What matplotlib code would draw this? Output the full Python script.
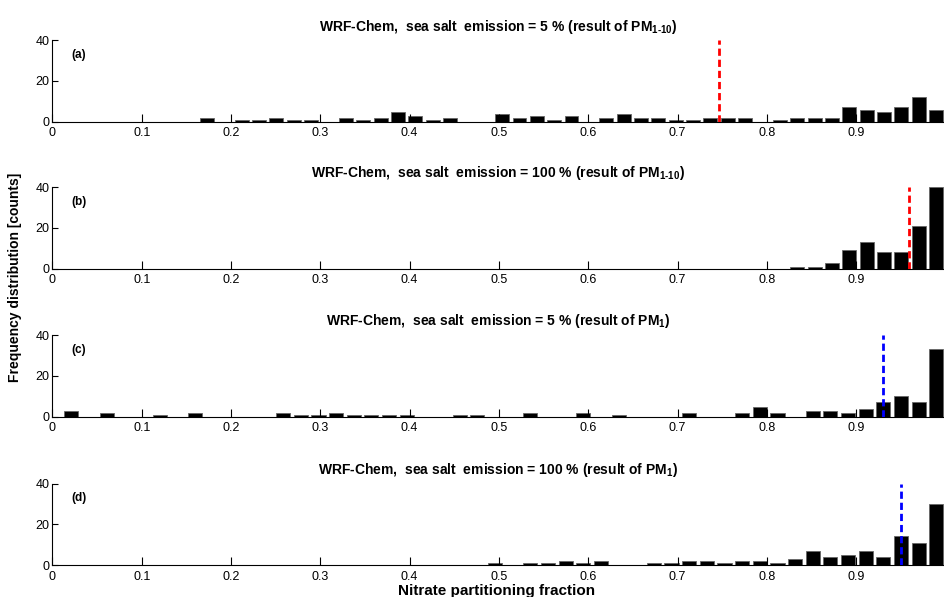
import numpy as np
import matplotlib
matplotlib.use("Agg")
import matplotlib.pyplot as plt

plt.rcParams['font.family'] = ['Liberation Sans', 'DejaVu Sans']
plt.rcParams['mathtext.fontset'] = 'custom'
plt.rcParams['mathtext.rm'] = 'Liberation Sans'
plt.rcParams['mathtext.bf'] = 'Liberation Sans:bold'

# histogram bin centres (first, last) for each panel, 50 bins
bins_pm110 = (0.037, 0.9896)
bins_pm1 = (0.0212, 0.9898)

counts_a = [0, 0, 0, 0, 0, 0, 0, 2, 0, 1,
            1, 2, 1, 1, 0, 2, 1, 2, 5, 3,
            1, 2, 0, 0, 4, 2, 3, 1, 3, 0,
            2, 4, 2, 2, 1, 1, 2, 2, 2, 0,
            1, 2, 2, 2, 7, 6, 5, 7, 12, 6]
counts_b = [0] * 40 + [0, 1, 1, 3, 9, 13, 8, 8, 21, 40]
counts_c = [3, 0, 2, 0, 0, 1, 0, 2, 0, 0,
            0, 0, 2, 1, 1, 2, 1, 1, 1, 1,
            0, 0, 1, 1, 0, 0, 2, 0, 0, 2,
            0, 1, 0, 0, 0, 2, 0, 0, 2, 5,
            2, 0, 3, 3, 2, 4, 7, 10, 7, 33]
counts_d = [0] * 20 + [0, 0, 0, 0, 1, 0, 1, 1, 2, 1,
                       2, 0, 0, 1, 1, 2, 2, 1, 2, 2,
                       1, 3, 7, 4, 5, 7, 4, 14, 11, 30]

means = [0.7465, 0.9592, 0.9305, 0.9502]
mean_colors = ['#ff0000', '#ff0000', '#0000ff', '#0000ff']
hy = '\u2010'
titles = ['WRF-Chem,  sea salt  emission = 5 % (result of PM$_{\\mathbf{1' + hy + '10}}$)',
          'WRF-Chem,  sea salt  emission = 100 % (result of PM$_{\\mathbf{1' + hy + '10}}$)',
          'WRF-Chem,  sea salt  emission = 5 % (result of PM$_{\\mathbf{1}}$)',
          'WRF-Chem,  sea salt  emission = 100 % (result of PM$_{\\mathbf{1}}$)']
panel_tags = ['(a)', '(b)', '(c)', '(d)']
xticks = [0, 0.1, 0.2, 0.3, 0.4, 0.5, 0.6, 0.7, 0.8, 0.9]

fig = plt.figure(figsize=(9.44, 5.97), dpi=100)

bottoms = [0.7961, 0.5499, 0.3020, 0.0536]
all_counts = [counts_a, counts_b, counts_c, counts_d]
all_bins = [bins_pm110, bins_pm110, bins_pm1, bins_pm1]

for i in range(4):
    ax = fig.add_axes([0.0555, bottoms[i], 0.9445, 0.1365])
    lo, hi = all_bins[i]
    centres = np.linspace(lo, hi, 50)
    step = centres[1] - centres[0]
    ax.bar(centres, all_counts[i], width=0.8 * step, color='black',
           edgecolor='#666666', linewidth=0.6)
    ax.vlines(means[i], 0, 40, colors=mean_colors[i], linewidth=2.0,
              linestyles=(0, (2.6, 1.4)), zorder=3)
    ax.set_xlim(0, 0.9984)
    ax.set_ylim(0, 40)
    ax.set_yticks([0, 20, 40])
    ax.set_xticks(xticks)
    ax.set_xticklabels([('%g' % t) for t in xticks])
    ax.spines['top'].set_visible(False)
    ax.spines['right'].set_visible(False)
    ax.spines['left'].set_linewidth(0.8)
    ax.spines['bottom'].set_linewidth(0.8)
    ax.tick_params(axis='x', direction='in', length=6, width=0.8,
                   labelsize=9, pad=4)
    ax.tick_params(axis='y', direction='in', length=4.5, width=0.8,
                   labelsize=9, pad=2)
    ax.set_title(titles[i], fontsize=10, fontweight='bold', pad=7)
    ax.text(0.021, 0.82, panel_tags[i], transform=ax.transAxes,
            fontsize=8.5, fontweight='bold', ha='left', va='center')

fig.text(0.016, 1 - 277 / 597, 'Frequency distribution [counts]', rotation=90,
         fontsize=10, fontweight='bold', ha='center', va='center')
fig.text(0.526, 1 - 584 / 597, 'Nitrate partitioning fraction', fontsize=11,
         fontweight='bold', ha='center', va='top')

fig.savefig('out.png', dpi=100)
